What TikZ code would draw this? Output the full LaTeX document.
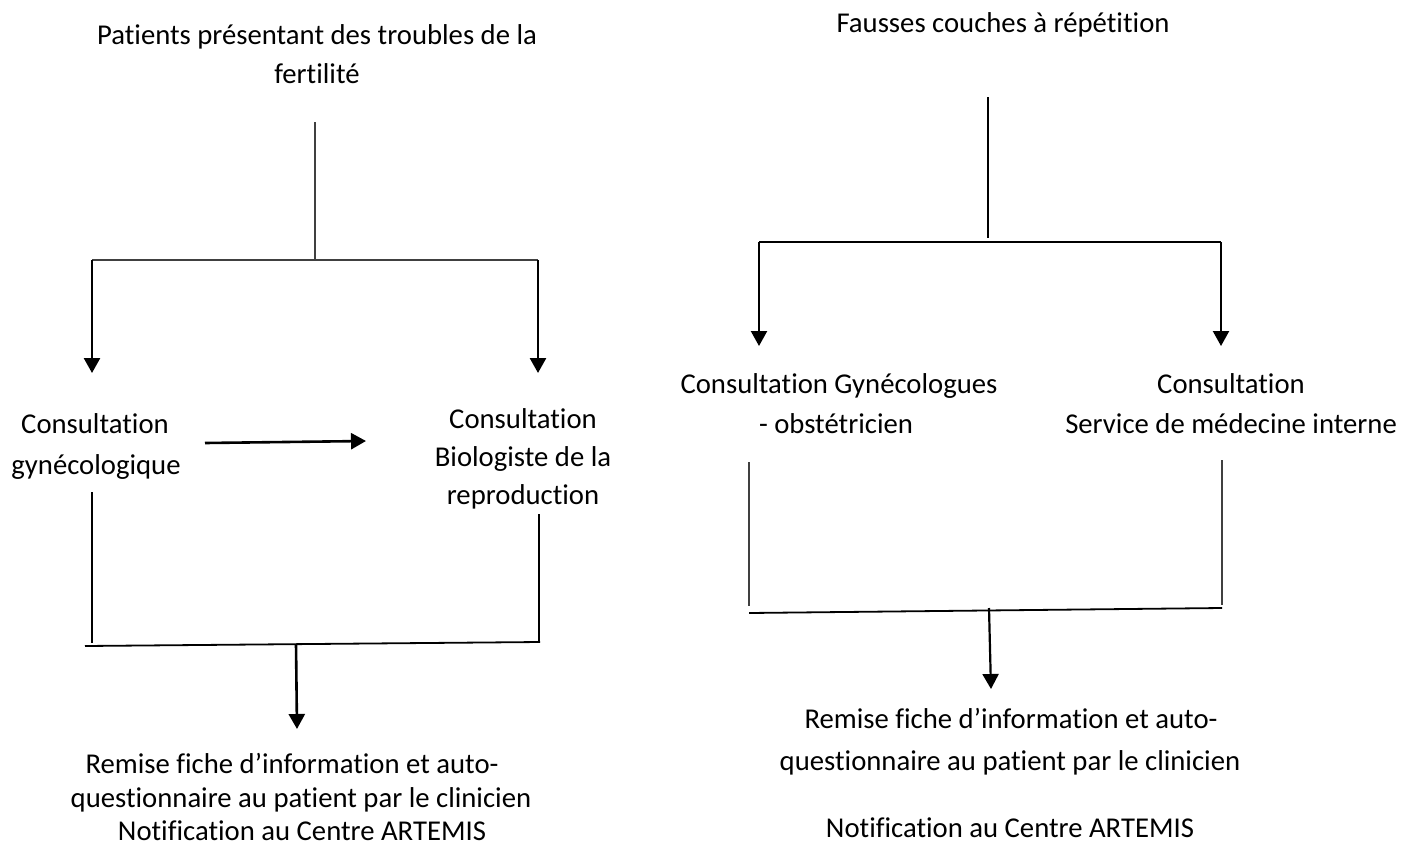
\documentclass[tikz,border=0pt]{standalone}
\usepackage{fontspec}
\setmainfont[Ligatures=NoCommon]{Carlito}
\usetikzlibrary{arrows.meta}
\begin{document}
\begin{tikzpicture}[x=1pt,y=-1pt,
  txt/.style={anchor=base,inner sep=0pt,font=\fontsize{28.7}{34}\selectfont},
  thin/.style={line width=1.2pt,draw=black!75},
  mid/.style={line width=1.8pt},
  thick/.style={line width=2.6pt},
  arr/.style={thick,-{Triangle[width=16pt,length=15pt]}},
  arrm/.style={line width=2.2pt,-{Triangle[width=16pt,length=15pt]}}]
\useasboundingbox (0,0) rectangle (1416,846);
% ---------- left ----------
\node[txt] (L1a) at (317,44) {Patients présentant des troubles de la};
\node[txt] (L1b) at (317,83) {fertilité};
\coordinate (Ltop) at (315,122);
\coordinate (Lj) at (315,260);
\coordinate (Ll) at (92,260);
\coordinate (Lr) at (538,260);
\coordinate (Lla) at (92,373);
\coordinate (Lra) at (538,373);
\draw[thin] (Ltop) -- (Lj);
\draw[thin] (Ll) -- (Lr);
\draw[arr] (Ll) -- (Lla);
\draw[arr] (Lr) -- (Lra);
\node[txt] (G1) at (95,433) {Consultation};
\node[txt] (G2) at (96,474) {gynécologique};
\node[txt] (B1) at (523,428) {Consultation};
\node[txt] (B2) at (523,466) {Biologiste de la};
\node[txt] (B3) at (523,504) {reproduction};
\coordinate (Ha) at (205,443);
\coordinate (Hb) at (366,441);
\draw[arr] (Ha) -- (Hb);
\coordinate (Lv1a) at (92,492);
\coordinate (Lv1b) at (92,643);
\coordinate (Lv2a) at (539,514);
\coordinate (Lv2b) at (539,642);
\draw[mid] (Lv1a) -- (Lv1b);
\draw[mid] (Lv2a) -- (Lv2b);
\coordinate (Lba) at (85,646);
\coordinate (Lbb) at (540,642);
\draw[mid] (Lba) -- (Lbb);
\coordinate (Ld1) at (296,644);
\coordinate (Ld2) at (297,729);
\draw[arr] (Ld1) -- (Ld2);
\node[txt] (R1) at (292,773) {Remise fiche d’information et auto-};
\node[txt] (R2) at (301,807) {questionnaire au patient par le clinicien};
\node[txt] (R3) at (302,840) {Notification au Centre ARTEMIS};
% ---------- right ----------
\node[txt] (F) at (1003,32) {Fausses couches à répétition};
\coordinate (Rtop) at (988,97);
\coordinate (Rj) at (988,238);
\coordinate (Rl) at (759,242);
\coordinate (Rr) at (1221,242);
\coordinate (Rla) at (759,346);
\coordinate (Rra) at (1221,346);
\draw[thick] (Rtop) -- (Rj);
\draw[mid] (Rl) -- (Rr);
\draw[arrm] (Rl) -- (Rla);
\draw[arrm] (Rr) -- (Rra);
\node[txt] (O1) at (839,393) {Consultation Gynécologues};
\node[txt] (O2) at (836,433) {- obstétricien};
\node[txt] (M1) at (1231,393) {Consultation};
\node[txt] (M2) at (1231,433) {Service de médecine interne};
\coordinate (Rv1a) at (749,462);
\coordinate (Rv1b) at (749,606);
\coordinate (Rv2a) at (1222,460);
\coordinate (Rv2b) at (1222,605);
\draw[thin] (Rv1a) -- (Rv1b);
\draw[thin] (Rv2a) -- (Rv2b);
\coordinate (Rba) at (749,613);
\coordinate (Rbb) at (1222,608);
\draw[mid] (Rba) -- (Rbb);
\coordinate (Rd1) at (989,608);
\coordinate (Rd2) at (991,689);
\draw[arrm] (Rd1) -- (Rd2);
\node[txt] (S1) at (1011,728) {Remise fiche d’information et auto-};
\node[txt] (S2) at (1010,770) {questionnaire au patient par le clinicien};
\node[txt] (S3) at (1010,837) {Notification au Centre ARTEMIS};
\end{tikzpicture}
\end{document}
